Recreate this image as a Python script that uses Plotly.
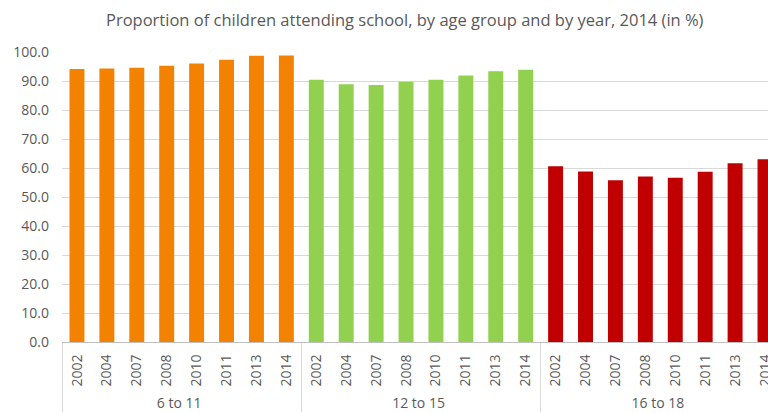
import plotly.graph_objects as go

groups = ["6 to 11", "12 to 15", "16 to 18"]
years = ["2002", "2004", "2007", "2008", "2010", "2011", "2013", "2014"]
vals_6_11 = [94.1, 94.3, 94.6, 95.3, 96.0, 97.3, 98.7, 98.8]
vals_12_15 = [90.4, 88.9, 88.6, 89.7, 90.4, 91.9, 93.4, 93.9]
vals_16_18 = [60.6, 58.8, 55.8, 57.1, 56.6, 58.7, 61.6, 63.0]
colors = ["#F38200", "#92D050", "#C00000"]

fig = go.Figure()
for g, v, c in zip(groups, [vals_6_11, vals_12_15, vals_16_18], colors):
    fig.add_trace(go.Bar(
        x=[[g] * len(years), years], y=v,
        marker=dict(color=c, line=dict(width=0)),
        width=0.5, showlegend=False,
    ))

fig.update_layout(
    width=768, height=413,
    margin=dict(l=62, r=0, t=52, b=71),
    plot_bgcolor="white", paper_bgcolor="white",
    font=dict(family="Open Sans", color="#595959", size=14),
    title=dict(
        text="Proportion of children attending school, by age group and by year, 2014 (in %)",
        x=0.527, xref="container", xanchor="center",
        y=1 - 20 / 413, yref="container", yanchor="middle",
        font=dict(size=16.5, color="#595959", family="Open Sans"),
    ),
    barmode="group",
)
fig.update_yaxes(
    range=[0, 100], dtick=10, tickformat=".1f",
    showgrid=True, gridcolor="#D9D9D9", gridwidth=1,
    zeroline=False, showline=False, ticks="",
    ticklabelstandoff=12,
    tickfont=dict(size=14, color="#595959"),
)
fig.update_xaxes(
    type="multicategory",
    range=[-0.5, 23.1],
    showline=True, linecolor="#BFBFBF", linewidth=1,
    showdividers=True, dividercolor="#D9D9D9", dividerwidth=1,
    tickangle=-90, ticks="",
    ticklabelstandoff=6,
    tickfont=dict(size=14, color="#595959"),
)

fig.write_html("out.html")
